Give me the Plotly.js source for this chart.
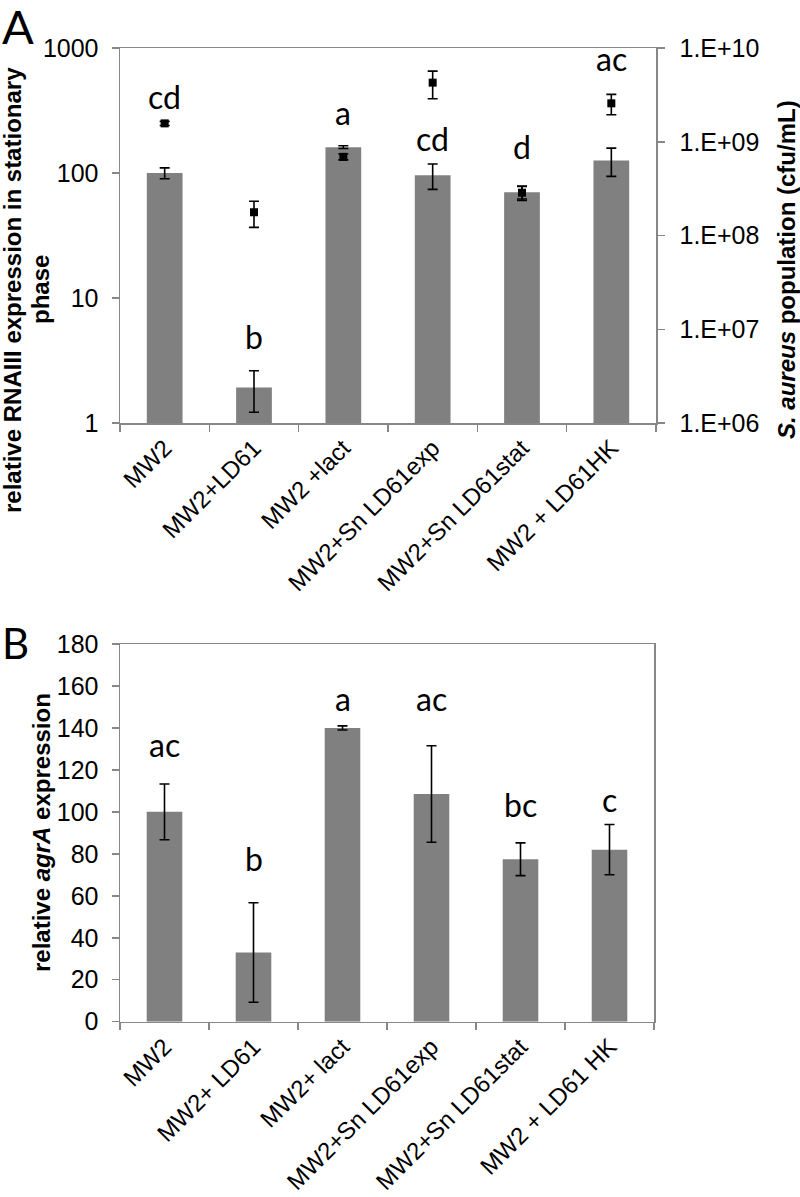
<!DOCTYPE html>
<html>
<head>
<meta charset="utf-8">
<script src="https://cdn.plot.ly/plotly-3.0.1.min.js"></script>
<style>html,body{margin:0;padding:0;background:#fff;}#chart{width:800px;height:1197px;}</style>
</head>
<body>
<div id="chart"></div>
<script>
// ---------- data ----------
const categoriesA = ["MW2", "MW2+LD61", "MW2 +lact", "MW2+Sn LD61exp", "MW2+Sn LD61stat", "MW2 + LD61HK"];
const rnaiiiExpression = [100, 1.92, 161, 96, 70, 126];
const rnaiiiError = [10, 0.7, 4, 22, 8, 32];
const populationCfu = [1.57e9, 1.77e8, 6.9e8, 4.27e9, 2.86e8, 2.57e9];
const populationError = [0.08e9, 0.55e8, 0.5e8, 1.4e9, 0.5e8, 0.63e9];
const lettersA = ["cd", "b", "a", "cd", "d", "ac"];
const leftTickValsA = [1, 10, 100, 1000];
const leftTickTextA = ["1", "10", "100", "1000"];
const rightTickValsA = [1e6, 1e7, 1e8, 1e9, 1e10];
const rightTickTextA = ["1.E+06", "1.E+07", "1.E+08", "1.E+09", "1.E+10"];

const categoriesB = ["MW2", "MW2+ LD61", "MW2+ lact", "MW2+Sn LD61exp", "MW2+Sn LD61stat", "MW2 + LD61 HK"];
const agrAExpression = [100, 33, 140, 108.5, 77.4, 82];
const agrAError = [13.3, 23.7, 1, 23, 7.8, 12];
const lettersB = ["ac", "b", "a", "ac", "bc", "c"];

// ---------- layout helpers (pixel positions, styling) ----------
const W = 800, H = 1197;
const px = x => x / W;
const py = y => 1 - y / H;
const letterBaselineA = [110, 350, 126, 152, 160, 72];
const letterBaselineB = [758, 872, 712, 712, 818, 813];
const LETTER_SIZE = 32;
const AXIS_GRAY = "#878787";
const BAR_GRAY = "#808080";
const tickFont = {family: "Liberation Sans, Arial, sans-serif", size: 25, color: "#000"};
const xTickFont = {family: "Liberation Sans, Arial, sans-serif", size: 24, color: "#000"};
const titleFont = {family: "Liberation Sans, Arial, sans-serif", size: 24, color: "#000", weight: "bold"};
const letterFont = {family: "Lato, Calibri, sans-serif", size: LETTER_SIZE, color: "#000"};

const traces = [
  {
    type: "bar", x: categoriesA, y: rnaiiiExpression, xaxis: "x", yaxis: "y",
    marker: {color: BAR_GRAY},
    error_y: {type: "data", array: rnaiiiError, visible: true, color: "#000", thickness: 1.6, width: 5},
    showlegend: false
  },
  {
    type: "scatter", mode: "markers", x: categoriesA, y: populationCfu, xaxis: "x", yaxis: "y2",
    marker: {symbol: "square", size: 8, color: "#000"},
    error_y: {type: "data", array: populationError, visible: true, color: "#000", thickness: 1.6, width: 5},
    showlegend: false
  },
  {
    type: "bar", x: categoriesB, y: agrAExpression, xaxis: "x2", yaxis: "y3",
    marker: {color: BAR_GRAY},
    error_y: {type: "data", array: agrAError, visible: true, color: "#000", thickness: 1.6, width: 5},
    showlegend: false
  }
];

const annotations = [];
function letterAnn(cat, text, base, xa) {
  const bottomPx = base + 0.213 * LETTER_SIZE + 1;
  return {xref: xa, yref: "paper", x: cat, y: py(bottomPx), yanchor: "bottom", xanchor: "center",
          text: text, showarrow: false, font: letterFont};
}
categoriesA.forEach((c, i) => annotations.push(letterAnn(c, lettersA[i], letterBaselineA[i], "x")));
categoriesB.forEach((c, i) => annotations.push(letterAnn(c, lettersB[i], letterBaselineB[i], "x2")));

// axis titles
annotations.push({xref: "paper", yref: "paper", x: px(12), y: py(290), xanchor: "center", yanchor: "middle",
  textangle: -90, text: "relative RNAIII expression in stationary", showarrow: false, font: titleFont});
annotations.push({xref: "paper", yref: "paper", x: px(40), y: py(290), xanchor: "center", yanchor: "middle",
  textangle: -90, text: "phase", showarrow: false, font: titleFont});
annotations.push({xref: "paper", yref: "paper", x: px(786), y: py(270), xanchor: "center", yanchor: "middle",
  textangle: -90, text: "<i>S. aureus</i> population (cfu/mL)", showarrow: false, font: titleFont});
annotations.push({xref: "paper", yref: "paper", x: px(41), y: py(833), xanchor: "center", yanchor: "middle",
  textangle: -90, text: "relative <i>agrA</i> expression", showarrow: false, font: titleFont});
// panel letters
annotations.push({xref: "paper", yref: "paper", x: px(0), y: py(-4), xanchor: "left", yanchor: "top",
  text: "A", showarrow: false, font: {family: "Lato, Calibri, sans-serif", size: 47, color: "#000"}});
annotations.push({xref: "paper", yref: "paper", x: px(0), y: py(616), xanchor: "left", yanchor: "top",
  text: "B", showarrow: false, font: {family: "Lato, Calibri, sans-serif", size: 42, color: "#000"}});

const baseAxis = {
  showline: true, linecolor: AXIS_GRAY, linewidth: 1.5, ticks: "outside", ticklen: 7,
  tickcolor: AXIS_GRAY, tickwidth: 1.5, showgrid: false, zeroline: false, tickfont: tickFont, fixedrange: true
};

const layout = {
  width: W, height: H,
  margin: {l: 0, r: 0, t: 0, b: 0},
  paper_bgcolor: "#fff", plot_bgcolor: "#fff",
  bargap: 0.6,
  showlegend: false,
  xaxis: Object.assign({}, baseAxis, {
    domain: [px(120), px(656)], anchor: "y", type: "category", tickson: "boundaries",
    tickangle: -45, mirror: true, range: [-0.5, 5.5], tickfont: xTickFont
  }),
  yaxis: Object.assign({}, baseAxis, {
    domain: [py(423), py(48)], anchor: "x", type: "log", range: [0, 3],
    tickvals: leftTickValsA, ticktext: leftTickTextA, ticklabelstandoff: 8
  }),
  yaxis2: Object.assign({}, baseAxis, {
    overlaying: "y", side: "right", anchor: "x", type: "log", range: [6, 10],
    tickvals: rightTickValsA, ticktext: rightTickTextA, ticklabelstandoff: 10
  }),
  xaxis2: Object.assign({}, baseAxis, {
    domain: [px(120), px(654)], anchor: "y3", type: "category", tickson: "boundaries",
    tickangle: -45, mirror: true, range: [-0.5, 5.5], tickfont: xTickFont
  }),
  yaxis3: Object.assign({}, baseAxis, {
    domain: [py(1021.7), py(644)], anchor: "x2", range: [0, 180], dtick: 20, mirror: true,
    ticklabelstandoff: 8
  }),
  annotations: annotations
};

Plotly.newPlot("chart", traces, layout, {displayModeBar: false, staticPlot: true});
</script>
</body>
</html>
